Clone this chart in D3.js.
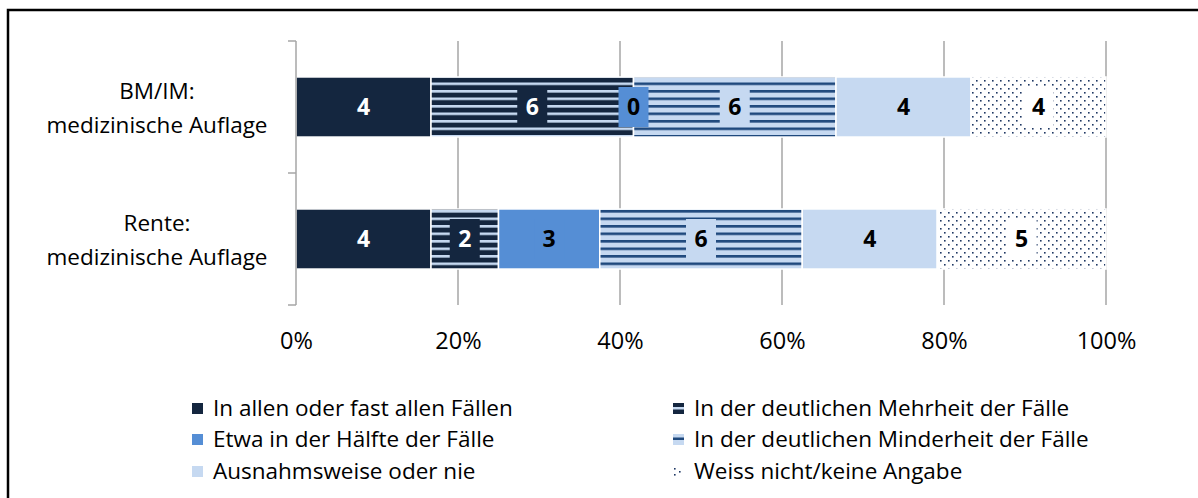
<!DOCTYPE html>
<html>
<head>
<meta charset="utf-8">
<script src="https://cdn.jsdelivr.net/npm/d3@7"></script>
<style>
  body { margin: 0; background: #fff; }
  svg { display: block; font-family: "Open Sans", sans-serif; }
</style>
</head>
<body>
<div id="chart"></div>
<script>
// categories, shown on two lines each
var categories = ["BM/IM", "Rente"];
var categoryLines = [["BM/IM:", "medizinische Auflage"], ["Rente:", "medizinische Auflage"]];

var seriesNames = [
  "In allen oder fast allen Fällen",
  "In der deutlichen Mehrheit der Fälle",
  "Etwa in der Hälfte der Fälle",
  "In der deutlichen Minderheit der Fälle",
  "Ausnahmsweise oder nie",
  "Weiss nicht/keine Angabe"
];

// counts per answer, one array per category
var valuesBM = [4, 6, 0, 6, 4, 4];
var valuesRente = [4, 2, 3, 6, 4, 5];

var tickValues = [0, 0.2, 0.4, 0.6, 0.8, 1];

var navy = "#14263f", mid = "#558ed5", light = "#c6d9f1", stripe = "#1f497d", dot = "#1f3864";

var W = 1198, H = 498;
var svg = d3.select("#chart").append("svg")
  .attr("width", W)
  .attr("height", H);

// patterns for the striped / dotted segments
var defs = svg.append("defs");
var pMehr = defs.append("pattern").attr("id", "pMehr")
  .attr("patternUnits", "userSpaceOnUse").attr("width", 8).attr("height", 7.5);
pMehr.append("rect").attr("width", 8).attr("height", 7.5).attr("fill", navy);
pMehr.append("rect").attr("y", 0).attr("width", 8).attr("height", 2.6).attr("fill", light);

var pMind = defs.append("pattern").attr("id", "pMind")
  .attr("patternUnits", "userSpaceOnUse").attr("width", 8).attr("height", 7.5);
pMind.append("rect").attr("width", 8).attr("height", 7.5).attr("fill", light);
pMind.append("rect").attr("y", 0).attr("width", 8).attr("height", 2.6).attr("fill", stripe);

var pDot = defs.append("pattern").attr("id", "pDot")
  .attr("patternUnits", "userSpaceOnUse").attr("width", 8).attr("height", 8);
pDot.append("rect").attr("width", 8).attr("height", 8).attr("fill", "#fff");
pDot.append("rect").attr("x", 0).attr("y", 0).attr("width", 1.6).attr("height", 1.6).attr("fill", dot);
pDot.append("rect").attr("x", 4).attr("y", 4).attr("width", 1.6).attr("height", 1.6).attr("fill", dot);

var fills = [navy, "url(#pMehr)", mid, "url(#pMind)", light, "url(#pDot)"];
// solid box behind the number label
var labelBox = [navy, navy, mid, light, light, "#fff"];
var labelColor = ["#fff", "#fff", "#000", "#000", "#000", "#000"];
var boxed = [false, true, true, true, false, true];

// outer frame
svg.append("rect")
  .attr("x", 8).attr("y", 10)
  .attr("width", W + 20).attr("height", H + 20)
  .attr("fill", "none").attr("stroke", "#000").attr("stroke-width", 2.5);

var x = d3.scaleLinear().domain([0, 1]).range([296, 1106]);
var y = d3.scaleBand().domain(categories).range([41, 305])
  .paddingInner(0.545).paddingOuter(0.2725);

// gridlines
svg.append("g").selectAll("line")
  .data(tickValues.slice(1))
  .enter().append("line")
  .attr("x1", function(d) { return x(d); })
  .attr("x2", function(d) { return x(d); })
  .attr("y1", 41).attr("y2", 305)
  .attr("stroke", "#a6a6a6").attr("stroke-width", 1.5);

// x axis labels only
var xAxis = d3.axisBottom(x).tickValues(tickValues).tickFormat(d3.format(".0%")).tickSize(0).tickPadding(27);
var gx = svg.append("g").attr("transform", "translate(0,305)").call(xAxis);
gx.select(".domain").remove();
gx.selectAll("text").attr("font-size", 23.5).attr("fill", "#000").attr("font-family", "'Open Sans', sans-serif");

// stack the data
var rows = categories.map(function(c, i) {
  var vals = i === 0 ? valuesBM : valuesRente;
  var total = d3.sum(vals), acc = 0;
  return vals.map(function(v, k) {
    var seg = { cat: c, k: k, v: v, x0: acc / total, x1: (acc + v) / total };
    acc += v;
    return seg;
  });
});
var allSegs = d3.merge(rows);

svg.append("g").selectAll("rect")
  .data(allSegs.filter(function(d) { return d.v > 0; }))
  .enter().append("rect")
  .attr("x", function(d) { return x(d.x0); })
  .attr("y", function(d) { return y(d.cat); })
  .attr("width", function(d) { return x(d.x1) - x(d.x0); })
  .attr("height", y.bandwidth())
  .attr("fill", function(d) { return fills[d.k]; })
  .attr("stroke", "#fff").attr("stroke-width", 1.5);

var labels = svg.append("g").selectAll("g")
  .data(allSegs)
  .enter().append("g")
  .attr("transform", function(d) { return "translate(" + x((d.x0 + d.x1) / 2) + "," + (y(d.cat) + y.bandwidth() / 2) + ")"; });

labels.filter(function(d) { return boxed[d.k]; }).append("rect")
  .attr("x", -15).attr("y", -20)
  .attr("width", 30).attr("height", 40)
  .attr("fill", function(d) { return labelBox[d.k]; });

labels.append("text")
  .attr("dy", "0.36em")
  .attr("text-anchor", "middle")
  .attr("font-size", 23).attr("font-weight", "bold")
  .attr("fill", function(d) { return labelColor[d.k]; })
  .text(function(d) { return d.v; });

// left axis line with category separators
var bounds = [41, (y(categories[0]) + y.bandwidth() + y(categories[1])) / 2, 305];
svg.append("line")
  .attr("x1", 296).attr("x2", 296).attr("y1", 41).attr("y2", 305)
  .attr("stroke", "#a6a6a6").attr("stroke-width", 1.5);
svg.append("g").selectAll("line")
  .data(bounds)
  .enter().append("line")
  .attr("x1", 288).attr("x2", 296)
  .attr("y1", function(d) { return d; }).attr("y2", function(d) { return d; })
  .attr("stroke", "#a6a6a6").attr("stroke-width", 1.5);

// category labels
var catText = svg.append("g").selectAll("text")
  .data(categories)
  .enter().append("text")
  .attr("text-anchor", "middle")
  .attr("font-size", 22.5)
  .attr("fill", "#000")
  .attr("transform", function(d) { return "translate(157," + (y(d) + y.bandwidth() / 2) + ")"; });
catText.selectAll("tspan")
  .data(function(d, i) { return categoryLines[i]; })
  .enter().append("tspan")
  .attr("x", 0)
  .attr("y", function(d, j) { return j === 0 ? -16 : 18; })
  .attr("dy", "0.36em")
  .text(function(d) { return d; });

// legend, two columns
var legX = [192, 673], legY = [408, 439, 471];
var leg = svg.append("g").selectAll("g")
  .data(seriesNames)
  .enter().append("g")
  .attr("transform", function(d, i) { return "translate(" + legX[i % 2] + "," + legY[Math.floor(i / 2)] + ")"; });

leg.each(function(d, i) {
  var g = d3.select(this);
  if (i === 1) {
    g.append("rect").attr("y", -5).attr("width", 11).attr("height", 11).attr("fill", navy);
    g.append("rect").attr("y", -1).attr("width", 11).attr("height", 2.5).attr("fill", light);
  } else if (i === 3) {
    g.append("rect").attr("y", -5).attr("width", 11).attr("height", 11).attr("fill", light);
    g.append("rect").attr("y", -1.5).attr("width", 11).attr("height", 2.5).attr("fill", stripe);
  } else if (i === 5) {
    [[1, -3], [1, 3], [6, 0]].forEach(function(p) {
      g.append("rect").attr("x", p[0]).attr("y", p[1]).attr("width", 1.6).attr("height", 1.6).attr("fill", dot);
    });
  } else {
    g.append("rect").attr("y", -5).attr("width", 11).attr("height", 11).attr("fill", fills[i]);
  }
  g.append("text")
    .attr("x", 21).attr("dy", "0.36em")
    .attr("font-size", 22.5).attr("fill", "#000")
    .text(d);
});
</script>
</body>
</html>
